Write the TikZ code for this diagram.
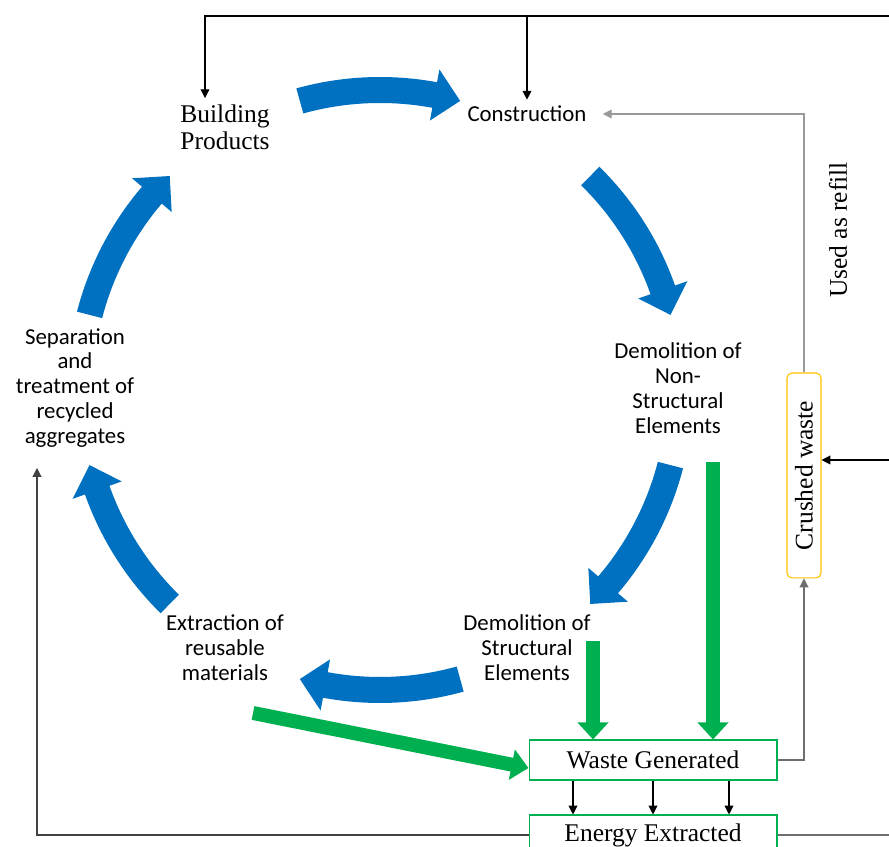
\documentclass[tikz,border=0pt]{standalone}
\usepackage{fontspec}
\usetikzlibrary{arrows.meta}
\setmainfont{Liberation Serif}
\newfontfamily\calib{Carlito}
\definecolor{B}{RGB}{0,112,192}
\definecolor{G}{RGB}{0,176,80}
\definecolor{O}{RGB}{255,192,0}
\definecolor{K}{RGB}{110,110,110}
\newcommand{\bluearc}[1]{
  \fill[B] ({#1+15.5}:313) arc[start angle={#1+15.5}, end angle={#1-10.5}, radius=313]
    -- ({#1-10.5}:326) -- ({#1-15.5}:300) -- ({#1-10.5}:274) -- ({#1-10.5}:287)
    arc[start angle={#1-10.5}, end angle={#1+15.5}, radius=287] -- cycle;
}
\tikzset{
  sans/.style={font=\calib\fontsize{13}{14.2}\selectfont, align=center, inner sep=0.12cm},
  serif/.style={font=\fontsize{14.5}{15.5}\selectfont, align=center, inner sep=0.12cm},
  wastebox/.style={serif, draw=G, line width=0.6pt, minimum width=4.96cm, minimum height=0.8cm},
  conn/.style={line width=0.6pt, -{Triangle[length=5pt,width=5pt]}},
  greenflow/.style={draw=G, line width=0.28cm, -{Triangle[length=0.34cm,width=0.6cm]}},
}

\begin{document}
\begin{tikzpicture}[x=0.02cm, y=0.02cm]
\useasboundingbox (0,0) rectangle (889,847);
\node[serif] (bp) at (225,720) {Building\\Products};
\node[sans] (constr) at (527,733) {Construction};
\node[sans] (demns) at (678,459) {Demolition of\\Non-\\Structural\\Elements};
\node[sans] (dems) at (527,199) {Demolition of\\Structural\\Elements};
\node[sans] (extr) at (225,199) {Extraction of\\reusable\\materials};
\node[sans] (sep) at (75,459) {Separation\\and\\treatment of\\recycled\\aggregates};
\node[wastebox] (waste) at (653,87) {Waste Generated};
\node[wastebox] (energy) at (653,12) {Energy Extracted};
\node[serif, draw=O, line width=0.6pt, rounded corners=0.1cm, minimum width=0.68cm, minimum height=4.1cm, inner sep=0pt] (crushed) at (804,371.5) {\rotatebox{90}{Crushed waste}};
\node[serif] (refill) at (838,617) {\rotatebox{90}{Used as refill}};
\begin{scope}[shift={(380,457)}]
\foreach \a in {90,30,-30,-90,-150,150}{\bluearc{\a}}
\end{scope}
\coordinate (gns) at (713,385);
\coordinate (gst) at (593,206);
\coordinate (gex) at (253,134);
\draw[greenflow] (gns) -- (gns |- waste.north);
\draw[greenflow] (gst) -- (gst |- waste.north);
\draw[greenflow] (gex) -- ([yshift=-0.16cm]waste.west);
\coordinate (topR) at (889,831);
\coordinate (topL) at (205,831);
\draw[conn] (topR) -- (topL) -- (topL |- bp.north);
\draw[conn] (constr.north |- topR) -- (constr.north);
\draw[conn, draw=K!70] (crushed.north) |- ([xshift=0.2cm]constr.east);
\coordinate (rin) at (889,387);
\draw[conn] (rin) -- (rin -| crushed.east);
\draw[conn, draw=K] (waste.east) -| (crushed.south);
\foreach \d in {-80,0,76} \draw[conn] ([xshift=\d*0.02cm]waste.south) -- ([xshift=\d*0.02cm]energy.north);
\coordinate (sepL) at (37,379);
\draw[conn, draw=K!60!black] (energy.west) -| (sepL);
\coordinate (eR) at (889,12);
\draw[line width=0.6pt, draw=K] (energy.east) -- (eR);
\end{tikzpicture}
\end{document}
